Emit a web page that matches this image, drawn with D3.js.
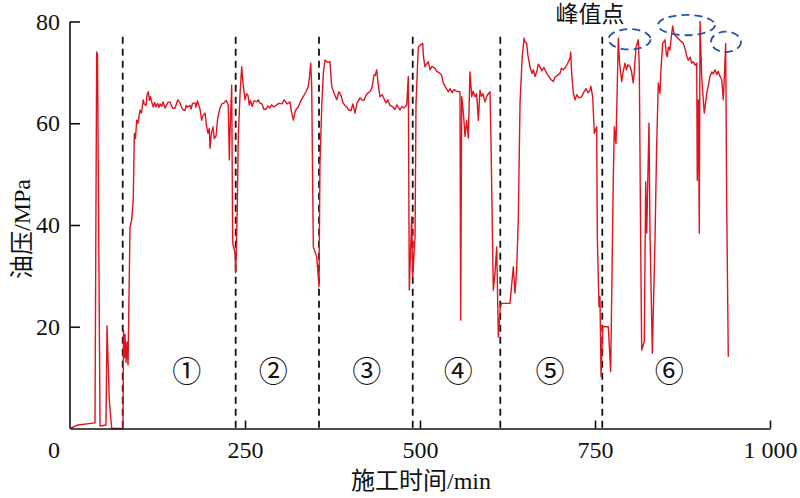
<!DOCTYPE html>
<html>
<head>
<meta charset="utf-8">
<script src="https://cdn.jsdelivr.net/npm/d3@7"></script>
<style>
  html, body { margin: 0; padding: 0; background: #fff; }
  svg { display: block; }
  text { font-family: "Liberation Serif", "Noto Sans CJK SC", serif; fill: #111; }
</style>
</head>
<body>
<svg id="chart" width="800" height="498"></svg>
<script>
// ---- data: [time (min), oil pressure (MPa)] per stage ----
const stage0Series = [[0,0],[11.4,0.7],[35.7,1.1],[38.1,74],[39.3,73.5],[42.9,0.5],[51.4,0.7],[52.9,20.2],[56.1,5.6],[59.6,0]];
const stage1Series = [[75.7,0],[76.4,19.4],[77.9,14],[78.6,18.5],[80,13],[81.4,17],[82.9,12.5],[85.7,39.6],[88.1,41],[90.4,45],[91.9,58],[93.5,57],[95.3,60.6],[97,60],[100,62.6],[102,62],[104.7,64.6],[106,63.8],[108.6,63.5],[110,65.5],[111.9,66.2],[113.5,64.5],[115,65.2],[117.1,64],[119,63.2],[121,64.1],[122.9,63.2],[125,63.9],[127,63.1],[128.6,63.8],[131,63.3],[133,64.2],[135.7,63],[138,63.6],[140,64.1],[142.9,64.2],[145,63.4],[147,62.9],[150,63],[152,63.8],[154,64.6],[157.1,64],[159,63.3],[161,62.7],[164.3,62.5],[166,63.5],[168,63.2],[171.4,63.5],[173,62.8],[175,63.9],[178.6,64],[180,63.2],[182,64.4],[185.7,62.8],[188.1,60.6],[190,61.5],[192.9,62],[195,59.5],[197.1,58],[199,59],[200,55.1],[202,58],[204.3,59.3],[206,57],[208.6,57.5],[211,61],[214.3,63],[217,63.8],[220,64],[223,64.5],[226.1,63.6],[227.6,52.8],[229,60],[231,67.5],[232.4,36.5],[235.7,34.5],[236.7,30.6]];
const stage2Series = [[239,43.5],[240.4,57.3],[243,66],[245.3,71.1],[247,68],[250,64.6],[252,65.8],[254.3,65.5],[256,63.6],[258,64.5],[260,63.3],[263,64.4],[266.7,64.2],[269,64.6],[271,64],[274.3,63.8],[277,62.7],[280,62.8],[283,63.4],[285.7,63],[288,63.6],[291,63.2],[294.3,63.5],[298,63.9],[302.9,63.8],[306,64.6],[310,63.8],[314.3,64.2],[316,62.5],[319,60.6],[322,62.5],[326.1,63.2],[330,64.5],[334.3,65.5],[337,66.2],[340.4,67.2],[342,69],[343.9,71.8],[345.3,67.2],[347.6,35.7],[352.4,33.8],[355.7,27.9]];
const stage3Series = [[357.1,52.2],[359.6,63.2],[362,70],[364.3,72.4],[368,72],[371.4,72.1],[373.9,67.2],[377,66],[381,64.6],[384,66.2],[387.1,65.5],[390,64],[393,63.5],[395.3,63.2],[398,62.6],[401.4,62.5],[404,63.8],[407.1,62],[410,64],[414.3,65],[417,64.6],[420,64.5],[423,65.5],[426.1,66],[429,66.3],[431.4,67],[434.3,69.5],[436,69.4],[438.1,70.5],[440,68],[442.9,65.2],[446,65.6],[451.4,64],[454,64.6],[457,63.5],[461.4,63.2],[464,62.7],[467,63.6],[471.4,62.6],[474,63.3],[477,63],[481,63.6],[483.3,69.2],[484.7,27.2],[488.1,41.6],[489.6,29.8]];
const stage4Series = [[492.9,37.7],[494.3,63.9],[497.6,75],[500,75.3],[503.9,75.7],[505,73],[507.1,71.1],[509,71.6],[511.9,72.1],[514.3,70.5],[517,71.2],[521.4,70.8],[524,70.2],[528.6,69.8],[531,69.4],[533.3,67.9],[536,67.2],[540.4,66.2],[543,66.8],[546,66],[548.6,66.6],[552,66.3],[557.1,66.2],[558.1,21.3],[559.6,65.2],[562,62],[564.3,57.4],[566.7,60.6],[569,57.1],[571.4,70.1],[573.9,65.2],[576,66.3],[578.6,65.2],[581,65.8],[583.3,60.6],[585.7,66.5],[588,65.3],[590,65.8],[592.9,64.2],[596,65.5],[600,66.2],[601.4,56.7],[604.7,27.2],[607.1,30.5],[609.6,35.7],[611.9,18],[614.7,24]];
const stage5Series = [[616.7,24.6],[628.6,24.6],[633.3,31.8],[635.7,26.6],[638.1,31.2],[640.4,41],[642.9,64],[646,73],[648.6,76.7],[650,76],[652.4,75.7],[654,73.5],[657.1,71.1],[660,69.8],[662,70.5],[664.3,69.2],[667,70.2],[669,71.6],[671.4,71.1],[674,70.3],[677,71],[681,69.8],[684,69.2],[687,68.6],[690.4,68.2],[693,69.1],[697.1,69.5],[700,69.8],[702,70.8],[704.7,70.5],[708,71],[711,71.8],[714.3,72.8],[715.3,74],[716.7,69.8],[719,66],[721.4,64.6],[724,65.6],[727,65],[731,65.2],[734,66.1],[737.1,66.8],[740,66],[742.9,66.5],[744,67.3],[746.7,65.2],[749,58],[752.4,59.3],[753.3,37.7],[755.7,23.9],[757.1,25.9],[758.6,10.2],[761,20]];
const stage6Series = [[769,20],[772.4,11.2],[776.1,48.8],[777.6,59.3],[780,56],[783.3,76.7],[785,72],[788.1,68.2],[790,70],[792.9,71.8],[795,70.5],[797,71.5],[800,71.1],[802,70.3],[804.7,67.9],[806,70],[808.6,75],[811.9,76.4],[813.3,71.1],[815.3,35.7],[816.7,15.4],[820.4,17.1],[822.4,48.5],[823.9,38.4],[827.1,60],[828.6,38.4],[831.9,14.8],[835.7,37],[838,55],[840.4,67.9],[842.9,65.9],[844,70],[846.7,75.7],[850,76.4],[852,73.5],[853.3,73.1],[855,75],[857.1,74.4],[859,77],[861,79.1],[863,77.5],[866.7,77],[869,76.6],[872,76.2],[876.1,75.7],[879,74.5],[881,73.2],[883.3,72.4],[886,73],[888,71.8],[890.4,72.1],[893,71.4],[895.3,71.8],[896.1,48.8],[897.6,64.6],[899,38.4],[900,80],[902.4,69.2],[904,66],[906.1,62],[908,64],[909.6,65.9],[912,67.5],[914.3,69.2],[917,70.1],[919,69.7],[921.4,70.5],[924,69.6],[926,70.2],[928.6,69.2],[931,68.6],[933.3,64.6],[935,70],[936.7,75.7],[938.1,44.9],[940.4,14.1]];
const stageBounds = [75.3, 236.7, 355.7, 489.6, 614.7, 760.4];
const stageLabels = ["①", "②", "③", "④", "⑤", "⑥"];
const stageLabelTime = [166.7, 290.5, 423.8, 554.7, 685.7, 856.1];
const stageLabelPressure = 11.2;
const xTickValues = [250, 500, 750, 1000];
const xTickLabels = ["250", "500", "750", "1 000"];
const yTickValues = [20, 40, 60, 80];
// peak annotations: centre time, centre pressure, half-width (min), half-height (MPa)
const peakTime = [799.3, 880.7, 937.1];
const peakPressure = [76.5, 79.3, 76];
const peakHalfWidth = [30, 40.7, 21.4];
const peakHalfHeight = [2, 2, 2];
const peakLabel = "峰值点";
const xTitle = "施工时间/min";
const yTitle = "油压/MPa";

// ---- drawing ----
const svg = d3.select("#chart");
const x = d3.scaleLinear().domain([0, 1000]).range([70, 770]);
const y = d3.scaleLinear().domain([0, 80]).range([428.5, 21.5]);

// stage boundaries
svg.append("g").selectAll("line").data(stageBounds).join("line")
  .attr("x1", d => x(d)).attr("x2", d => x(d))
  .attr("y1", y(77)).attr("y2", y(0))
  .attr("stroke", "#111").attr("stroke-width", 1.8)
  .attr("stroke-dasharray", "7,5");

// pressure curve
const pts = [].concat(stage0Series, stage1Series, stage2Series, stage3Series, stage4Series, stage5Series, stage6Series);
svg.append("path").datum(pts)
  .attr("fill", "none").attr("stroke", "#e0141e").attr("stroke-width", 1.4)
  .attr("stroke-linejoin", "round")
  .attr("d", d3.line().x(d => x(d[0])).y(d => y(d[1])));

// axes
const xAxis = d3.axisBottom(x).tickValues(xTickValues)
  .tickFormat((d, i) => xTickLabels[i]).tickSizeInner(-8).tickSizeOuter(0).tickPadding(12);
const gx = svg.append("g").attr("transform", `translate(0,${y(0)})`).call(xAxis);
const yAxis = d3.axisLeft(y).tickValues(yTickValues).tickSizeInner(-10).tickSizeOuter(0).tickPadding(10);
const gy = svg.append("g").attr("transform", `translate(${x(0)},0)`).call(yAxis);
[gx, gy].forEach(g => {
  g.select(".domain").attr("stroke", "#111").attr("stroke-width", 1.6);
  g.selectAll(".tick line").attr("stroke", "#111").attr("stroke-width", 1.6);
  g.selectAll(".tick text").attr("font-family", "Liberation Serif").attr("font-size", 24).attr("fill", "#111");
});
gy.select(".domain").attr("d", `M0,${y(0)}V${y(80)}`);
// origin label
svg.append("text").attr("x", 54).attr("y", y(0) + 12).attr("dy", "0.71em")
  .attr("text-anchor", "middle").attr("font-size", 24).text("0");

// stage labels
svg.append("g").selectAll("text").data(stageLabels).join("text")
  .attr("x", (d, i) => x(stageLabelTime[i])).attr("y", y(stageLabelPressure))
  .attr("dy", "0.35em").attr("text-anchor", "middle")
  .attr("font-family", "Noto Sans CJK SC").attr("font-size", 29).text(d => d);

// peak ellipses
svg.append("g").selectAll("ellipse").data(peakTime).join("ellipse")
  .attr("cx", d => x(d)).attr("cy", (d, i) => y(peakPressure[i]))
  .attr("rx", (d, i) => x(d + peakHalfWidth[i]) - x(d))
  .attr("ry", (d, i) => y(0) - y(peakHalfHeight[i]))
  .attr("fill", "none").attr("stroke", "#2452a8").attr("stroke-width", 1.8)
  .attr("stroke-dasharray", "8,5");
svg.append("text").attr("x", 590).attr("y", 14).attr("dy", "0.35em")
  .attr("text-anchor", "middle").attr("font-family", "Noto Sans CJK SC").attr("font-size", 23)
  .text(peakLabel);

// axis titles
svg.append("text").attr("x", 421).attr("y", 481).attr("dy", "0.35em")
  .attr("text-anchor", "middle").attr("font-size", 24).text(xTitle);
svg.append("text").attr("transform", "translate(22,229) rotate(-90)").attr("dy", "0.35em")
  .attr("text-anchor", "middle").attr("font-size", 24).text(yTitle);
</script>
</body>
</html>
